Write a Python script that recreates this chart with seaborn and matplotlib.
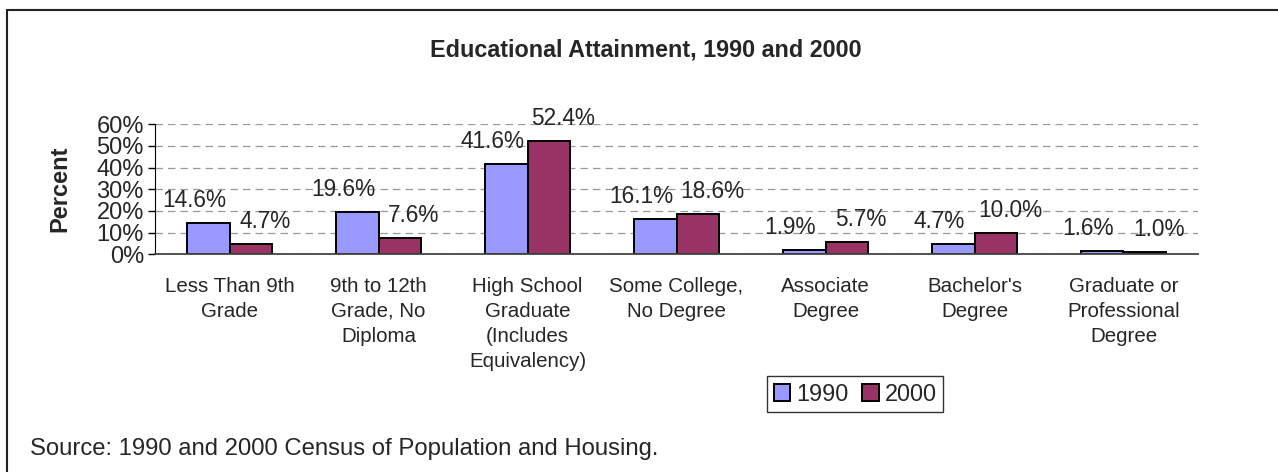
import matplotlib
matplotlib.use("Agg")
import matplotlib.pyplot as plt
import matplotlib.patches as mpatches
from matplotlib.lines import Line2D
import numpy as np
import pandas as pd
import seaborn as sns

# data
categories = [
    "Less Than 9th\nGrade",
    "9th to 12th\nGrade, No\nDiploma",
    "High School\nGraduate\n(Includes\nEquivalency)",
    "Some College,\nNo Degree",
    "Associate\nDegree",
    "Bachelor's\nDegree",
    "Graduate or\nProfessional\nDegree",
]
pct_1990 = [14.6, 19.6, 41.6, 16.1, 1.9, 4.7, 1.6]
pct_2000 = [4.7, 7.6, 52.4, 18.6, 5.7, 10.0, 1.0]
years = ["1990", "2000"]
colors = ["#9999FF", "#993366"]

df = pd.DataFrame({
    "Category": categories * 2,
    "Year": [years[0]] * len(categories) + [years[1]] * len(categories),
    "Percent": pct_1990 + pct_2000,
})

sns.set_style("white")
plt.rcParams["font.family"] = ["Liberation Sans", "DejaVu Sans"]

fig = plt.figure(figsize=(12.78, 4.72), dpi=100)
ax = fig.add_axes([0.1213, 0.4612, 0.8161, 0.2754])

sns.barplot(
    data=df, x="Category", y="Percent", hue="Year",
    palette=colors, width=0.575, edgecolor="black", linewidth=1.4,
    saturation=1, ax=ax, legend=False,
)

# value labels, nudged outward like the original
shifts = [-14, 14]
for cont, dx in zip(ax.containers, shifts):
    for bar, v in zip(cont, cont.datavalues):
        ax.annotate(f"{v:.1f}%",
                    (bar.get_x() + bar.get_width() / 2, bar.get_height()),
                    xytext=(dx, 16), textcoords="offset pixels",
                    ha="center", va="baseline", fontsize=16.3)

ax.set_xlim(-0.5, len(categories) - 0.5)
ax.set_ylim(0, 60)
ax.set_yticks(np.arange(0, 61, 10))
ax.set_yticklabels([f"{t}%" for t in range(0, 61, 10)], fontsize=17)
ax.yaxis.grid(True, linestyle=(0, (6, 4)), color="#999999", linewidth=0.9)
ax.set_axisbelow(True)

ax.set_xticks(range(len(categories)))
ax.set_xticklabels(categories, fontsize=14.8, linespacing=1.4)
ax.set_xticks(np.arange(-0.5, len(categories), 1), minor=True)
ax.tick_params(axis="x", which="major", length=0, pad=16)
ax.tick_params(axis="x", which="minor", length=4.5, direction="out", color="#333333", width=1)
ax.tick_params(axis="y", length=5, direction="out", color="black", width=1, left=True, pad=3)

for s in ["top", "right"]:
    ax.spines[s].set_visible(False)
ax.spines["left"].set_color("black")
ax.spines["bottom"].set_color("#444444")
ax.spines["bottom"].set_linewidth(1.3)

ax.set_xlabel("")
ax.set_ylabel("")
fig.text(0.047, 0.60, "Percent", rotation=90, ha="center", va="center",
         fontsize=17, fontweight="bold")

fig.text(0.5055, 0.894, "Educational Attainment, 1990 and 2000",
         ha="center", va="center", fontsize=16.8, fontweight="bold")

handles = [mpatches.Patch(facecolor=c, edgecolor="black", linewidth=1.4, label=y)
           for c, y in zip(colors, years)]
fig.legend(handles=handles, loc="center", bbox_to_anchor=(0.669, 0.1646), ncol=2,
           fontsize=16.9, frameon=True, fancybox=False, edgecolor="black",
           handlelength=0.7, handleheight=0.7, handletextpad=0.25,
           columnspacing=0.6, borderpad=0.28, borderaxespad=0)

fig.text(0.0235, 0.049, "Source: 1990 and 2000 Census of Population and Housing.",
         ha="left", va="center", fontsize=17.2)

# chart frame: only top and left edges visible in the original
fig.lines.append(Line2D([0.0055, 1.0], [0.979, 0.979], transform=fig.transFigure,
                        color="#222222", linewidth=1.5))
fig.lines.append(Line2D([0.0055, 0.0055], [0.0, 0.979], transform=fig.transFigure,
                        color="#222222", linewidth=1.5))

fig.savefig("out.png", dpi=100)
